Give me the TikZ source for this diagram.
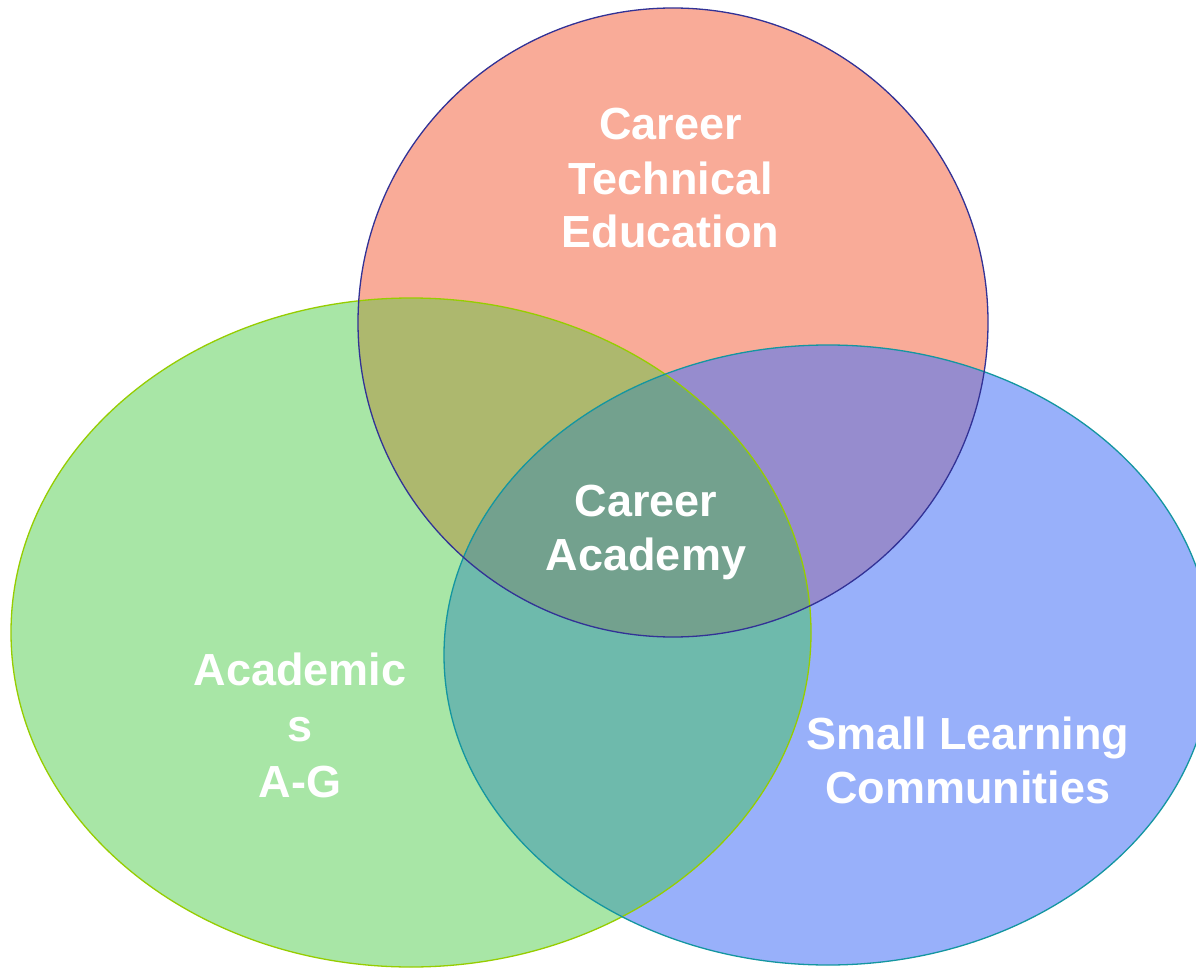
\documentclass[tikz,border=0pt]{standalone}
\usepackage{fontspec}
\setmainfont{Liberation Sans}
\definecolor{cred}{RGB}{249,171,152}
\definecolor{cgreen}{RGB}{168,230,166}
\definecolor{cblue}{RGB}{152,176,250}
\definecolor{crg}{RGB}{173,184,110}
\definecolor{crb}{RGB}{150,140,206}
\definecolor{cgb}{RGB}{110,186,172}
\definecolor{call}{RGB}{115,161,142}
\definecolor{lred}{RGB}{50,50,150}
\definecolor{lgreen}{RGB}{150,205,0}
\definecolor{lblue}{RGB}{20,150,160}
\begin{document}
\begin{tikzpicture}[x=1pt,y=-1pt,
  lbl/.style={text=white,font=\bfseries\fontsize{45}{54}\selectfont,align=center,anchor=base,inner sep=0pt},
  rim/.style={line width=1.3pt}]
\useasboundingbox (0,0) rectangle (1196,968);
\fill[white] (0,0) rectangle (1196,968);
\def\redE{(673,322.5) ellipse [x radius=315pt, y radius=314.5pt]}
\def\greenE{(411,632.5) ellipse [x radius=400pt, y radius=334.5pt]}
\def\blueE{(828,655) ellipse [x radius=384pt, y radius=310pt]}
\fill[cred] \redE;
\fill[cgreen] \greenE;
\fill[cblue] \blueE;
\begin{scope}\clip \redE; \fill[crg] \greenE;\end{scope}
\begin{scope}\clip \redE; \fill[crb] \blueE;\end{scope}
\begin{scope}\clip \greenE; \fill[cgb] \blueE;\end{scope}
\begin{scope}\clip \redE; \clip \greenE; \fill[call] \blueE;\end{scope}
\draw[rim,lgreen] \greenE;
\draw[rim,lblue] \blueE;
\draw[rim,lred] \redE;
\node[lbl] (cte) at (670.5,248) {Career\\Technical\\Education};
\node[lbl] (ca) at (646,570) {Career\\Academy};
\node[lbl,font=\bfseries\fontsize{45}{56}\selectfont] (acad) at (300,797) {Academic\\s\\A-G};
\node[lbl] (slc) at (968,803) {Small Learning\\Communities};
\end{tikzpicture}
\end{document}
